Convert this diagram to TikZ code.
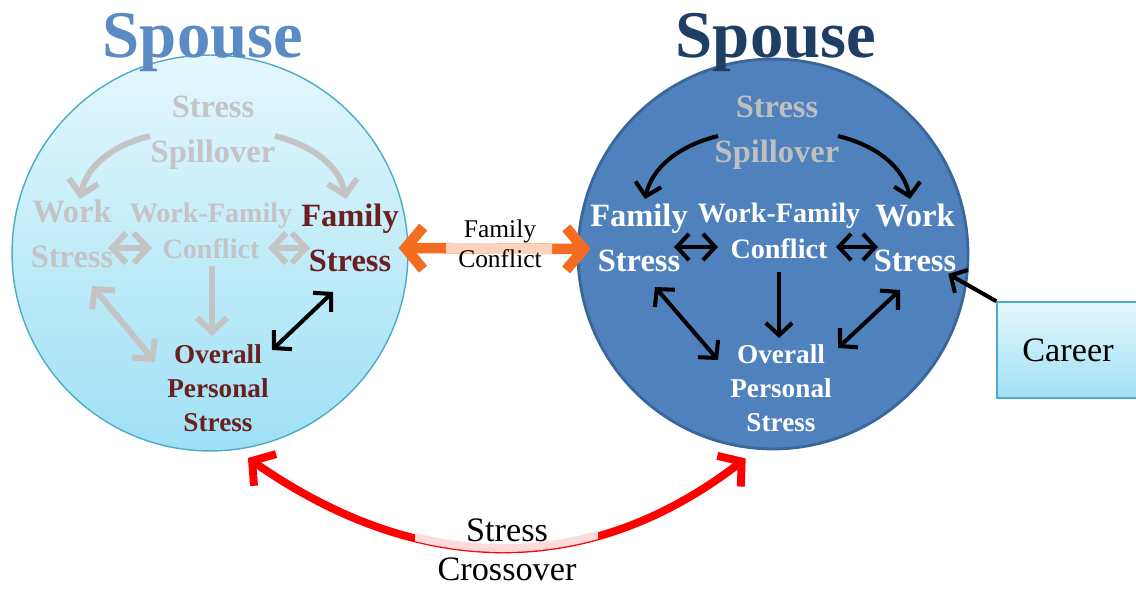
\documentclass[tikz,border=0pt]{standalone}
\usepackage{fontspec}
\setmainfont{Liberation Serif}
\usetikzlibrary{arrows,arrows.meta,positioning}
\definecolor{paleSky}{HTML}{E4F8FD}
\definecolor{deepSky}{HTML}{9FE0F5}
\definecolor{skyEdge}{HTML}{4BACC6}
\definecolor{spouseBlue}{HTML}{4F81BD}
\definecolor{spouseEdge}{HTML}{3A679A}
\definecolor{titleLight}{HTML}{5B8BC5}
\definecolor{titleDark}{HTML}{1F3E64}
\definecolor{ghostGray}{HTML}{C4C4C4}
\definecolor{wine}{HTML}{6B2020}
\definecolor{spillGray}{HTML}{BFBFBF}
\definecolor{conflictOrange}{HTML}{F36C1F}
\definecolor{conflictPale}{HTML}{FCD3BC}
\definecolor{crossRed}{HTML}{FF0000}
\definecolor{crossPale}{HTML}{FFDADA}
\tikzset{
  left circle/.style={circle, inner sep=0pt, minimum size=7.92cm,
    top color=paleSky, bottom color=deepSky, draw=skyEdge, line width=0.8pt},
  right circle/.style={circle, inner sep=0pt, minimum size=7.8cm,
    fill=spouseBlue, draw=spouseEdge, line width=1.6pt},
  title/.style={anchor=base, inner sep=0pt, font=\fontsize{38}{40}\selectfont\bfseries},
  big label/.style={align=center, inner sep=1pt, font=\fontsize{18.5}{25.5}\selectfont\bfseries},
  mid label/.style={align=center, inner sep=1pt, font=\fontsize{16}{20.5}\selectfont\bfseries},
  small label/.style={align=center, inner sep=1pt, font=\fontsize{15.5}{19.5}\selectfont\bfseries},
  plain label/.style={align=center, inner sep=1pt},
  career box/.style={rectangle, minimum width=2.84cm, minimum height=1.92cm,
    top color=paleSky, bottom color=deepSky, draw=skyEdge, line width=0.8pt,
    font=\fontsize{19.5}{22}\selectfont},
  blk/.style={draw=black, line width=2.3pt, >={Straight Barb[length=7pt,width=15pt]}},
  ghost/.style={draw=ghostGray, line width=3.4pt, >={Straight Barb[length=8pt,width=17pt]}},
  conflict/.style={draw=conflictOrange, line width=6pt, >={Straight Barb[length=10pt,width=24pt]}},
  crossover/.style={draw=crossRed, line width=4.5pt, >={Straight Barb[length=9pt,width=22pt]}}
}

\begin{document}
\begin{tikzpicture}[x=0.02cm,y=-0.02cm]
  \useasboundingbox (0,0) rectangle (1136,590);

  \node[left circle] (cL) at (210,253) {};
  \node[right circle] (cR) at (773,254) {};

  \node[title, text=titleLight] (spL) at (203,58) {Spouse};
  \node[title, text=titleDark] (spR) at (776,58) {Spouse};

  % left spouse
  \node[big label, text=ghostGray] (ssL) at (213,133) {Stress\\Spillover};
  \node[big label, text=ghostGray] (wsL) at (72,234) {Work\\Stress};
  \node[mid label, text=ghostGray] (wfL) at (211,231) {Work-Family\\Conflict};
  \node[big label, text=wine] (fsL) at (350,238) {Family\\Stress};
  \node[small label, text=wine] (opL) at (218,388) {Overall\\Personal\\Stress};

  % right spouse
  \node[big label, text=spillGray] (ssR) at (777,133) {Stress\\Spillover};
  \node[big label, text=white] (fsR) at (639,238) {Family\\Stress};
  \node[mid label, text=white] (wfR) at (779,231) {Work-Family\\Conflict};
  \node[big label, text=white] (wsR) at (915,238) {Work\\Stress};
  \node[small label, text=white] (opR) at (781,388) {Overall\\Personal\\Stress};

  \node[career box] (career) at (1068,350) {Career};

  \coordinate (slL1) at (150,136); \coordinate (slL2) at (80,199);
  \coordinate (srL1) at (275,136); \coordinate (srL2) at (346,199);
  \coordinate (hL1) at (108,248); \coordinate (hL2) at (152,248);
  \coordinate (hL3) at (268,248); \coordinate (hL4) at (310,248);
  \coordinate (dL1) at (212,266); \coordinate (dL2) at (212,336);
  \coordinate (wL1) at (92,286); \coordinate (wL2) at (155,362);
  \coordinate (fL1) at (333,292); \coordinate (fL2) at (272,350);

  \coordinate (slR1) at (718,136); \coordinate (slR2) at (645,199);
  \coordinate (srR1) at (838,136); \coordinate (srR2) at (910,199);
  \coordinate (hR1) at (674,247); \coordinate (hR2) at (718,247);
  \coordinate (hR3) at (836,247); \coordinate (hR4) at (878,247);
  \coordinate (dR1) at (779,272); \coordinate (dR2) at (779,338);
  \coordinate (fR1) at (655,287); \coordinate (fR2) at (718,360);
  \coordinate (wR1) at (900,290); \coordinate (wR2) at (838,348);

  \draw[ghost,->] (slL1) .. controls (110,146) and (86,168) .. (slL2);
  \draw[ghost,->] (srL1) .. controls (315,146) and (340,168) .. (srL2);
  \draw[ghost,<->] (hL1) -- (hL2);
  \draw[ghost,<->] (hL3) -- (hL4);
  \draw[ghost,->] (dL1) -- (dL2);
  \draw[ghost,<->] (wL1) -- (wL2);
  \draw[blk,<->] (fL1) -- (fL2);

  \draw[blk,->] (slR1) .. controls (678,146) and (652,168) .. (slR2);
  \draw[blk,->] (srR1) .. controls (878,146) and (904,168) .. (srR2);
  \draw[blk,<->] (hR1) -- (hR2);
  \draw[blk,<->] (hR3) -- (hR4);
  \draw[blk,->] (dR1) -- (dR2);
  \draw[blk,<->] (fR1) -- (fR2);
  \draw[blk,<->] (wR1) -- (wR2);

  \draw[blk,->] (career.north west) -- ([xshift=-0.2cm]wsR.south east);

  \draw[conflict,<->] ([xshift=-0.2cm,yshift=0.1cm]cL.east) -- ([xshift=0.28cm,yshift=0.1cm]cR.west);
  \begin{scope}
    \clip (446,200) rectangle (552,300);
    \draw[draw=conflictPale, line width=6pt] ([yshift=0.1cm]cL.east) -- ([yshift=0.1cm]cR.west);
  \end{scope}
  \node[plain label, font=\fontsize{14.5}{17}\selectfont] (fc) at (500,244) {Family\\Conflict};

  \coordinate (xoL) at ([yshift=-0.2cm]cL.-79);
  \coordinate (xoR) at ([yshift=-0.2cm]cR.-98);
  \draw[crossover,<->] (xoL) .. controls (420,578) and (590,578) .. (xoR);
  \begin{scope}
    \clip (415,500) rectangle (598,590);
    \draw[draw=crossPale, line width=4.5pt] (xoL) .. controls (420,578) and (590,578) .. (xoR);
  \end{scope}
  \node[plain label, font=\fontsize{19.5}{22.5}\selectfont] (sc) at (507,550) {Stress\\Crossover};

\end{tikzpicture}
\end{document}
